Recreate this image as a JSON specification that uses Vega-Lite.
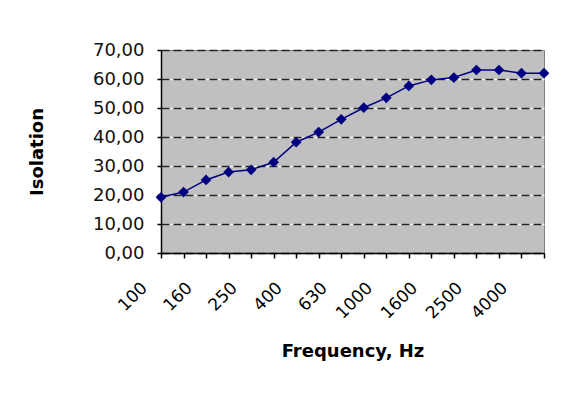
{
  "$schema": "https://vega.github.io/schema/vega-lite/v6.json",
  "width": 383,
  "height": 203,
  "autosize": {"type": "none"},
  "padding": {"left": 161, "top": 50, "right": 17, "bottom": 154},
  "background": "white",
  "config": {
    "font": "DejaVu Sans",
    "view": {"fill": "#c0c0c0", "stroke": "#808080", "strokeWidth": 1}
  },
  "data": {
    "values": [
      {"f": "100", "v": 19.2},
      {"f": "125", "v": 21.0},
      {"f": "160", "v": 25.2},
      {"f": "200", "v": 27.9},
      {"f": "250", "v": 28.7},
      {"f": "315", "v": 31.3},
      {"f": "400", "v": 38.2},
      {"f": "500", "v": 41.7},
      {"f": "630", "v": 46.1},
      {"f": "800", "v": 50.1},
      {"f": "1000", "v": 53.5},
      {"f": "1250", "v": 57.6},
      {"f": "1600", "v": 59.7},
      {"f": "2000", "v": 60.5},
      {"f": "2500", "v": 63.1},
      {"f": "3150", "v": 63.1},
      {"f": "4000", "v": 62.0},
      {"f": "5000", "v": 62.0}
    ]
  },
  "encoding": {
    "x": {
      "field": "f",
      "type": "ordinal",
      "sort": null,
      "scale": {"type": "point", "padding": 0},
      "axis": {
        "title": "Frequency, Hz",
        "titleFont": "DejaVu Sans",
        "titleFontSize": 18,
        "titleFontWeight": "bold",
        "titleColor": "black",
        "titlePadding": 21,
        "labelFont": "DejaVu Sans",
        "labelAngle": -45,
        "labelAlign": "right",
        "labelBaseline": "middle",
        "labelFontSize": 17,
        "labelColor": "black",
        "labelPadding": 27,
        "labelOffset": -17,
        "labelExpr": "indexof(['100','160','250','400','630','1000','1600','2500','4000'], datum.label) >= 0 ? datum.label : ''",
        "domainColor": "black",
        "domainWidth": 1.5,
        "tickColor": "black",
        "tickWidth": 1.5,
        "tickSize": 5,
        "grid": false
      }
    }
  },
  "layer": [
    {
      "mark": {"type": "line", "color": "#000080", "strokeWidth": 1.5},
      "encoding": {
        "y": {
          "field": "v",
          "type": "quantitative",
          "scale": {"domain": [0, 70], "nice": false},
          "axis": {
            "orient": "left",
            "title": null,
            "values": [10, 20, 30, 40, 50, 60],
            "labels": false,
            "ticks": false,
            "domain": false,
            "grid": true,
            "gridColor": "#f4f4f4",
            "gridWidth": 1.5
          }
        }
      }
    },
    {
      "mark": {"type": "point", "shape": "diamond", "size": 115, "filled": true, "color": "#000080", "opacity": 1},
      "encoding": {
        "y": {
          "field": "v",
          "type": "quantitative",
          "scale": {"domain": [0, 70], "nice": false},
          "axis": {
            "orient": "left",
            "title": "Isolation",
            "titleFont": "DejaVu Sans",
            "titleFontSize": 18,
            "titleFontWeight": "bold",
            "titleColor": "black",
            "titlePadding": 46,
            "values": [0, 10, 20, 30, 40, 50, 60, 70],
            "labelExpr": "replace(format(datum.value, '.2f'), '.', ',')",
            "labelFont": "DejaVu Sans",
            "labelFontSize": 18,
            "labelColor": "#111111",
            "labelPadding": 13,
            "domainColor": "black",
            "domainWidth": 1.5,
            "tickColor": "black",
            "tickWidth": 1.5,
            "tickSize": 4,
            "grid": true,
            "gridColor": "#222222",
            "gridDash": [8, 4],
            "gridWidth": 1.5
          }
        }
      }
    }
  ],
  "resolve": {"axis": {"y": "independent"}}
}
